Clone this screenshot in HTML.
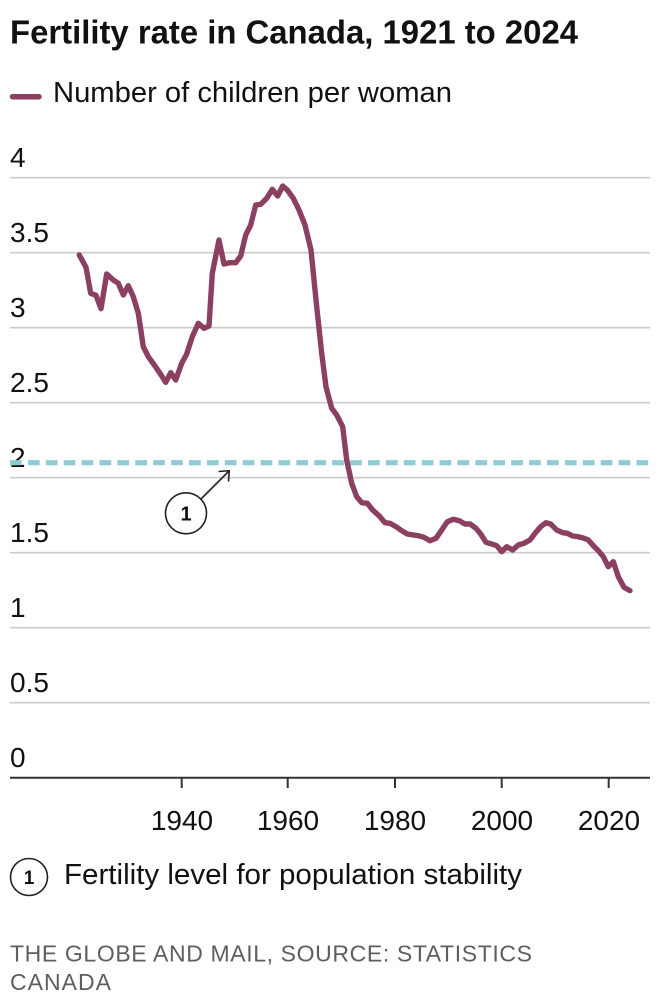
<!DOCTYPE html>
<html>
<head>
<meta charset="utf-8">
<style>
  html,body{margin:0;padding:0;background:#fff;}
  svg{display:block;}
  text{font-family:"Liberation Sans",Arial,sans-serif;}
</style>
</head>
<body>
<svg width="660" height="1008" viewBox="0 0 660 1008" xmlns="http://www.w3.org/2000/svg">
  <rect width="660" height="1008" fill="#fff"/>
  <!-- Title -->
  <text x="10" y="43.5" font-size="33" font-weight="bold" fill="#111" textLength="568" lengthAdjust="spacingAndGlyphs">Fertility rate in Canada, 1921 to 2024</text>
  <!-- Legend -->
  <line x1="12.5" y1="96.7" x2="39" y2="96.7" stroke="#8b3f61" stroke-width="5.5" stroke-linecap="round"/>
  <text x="53" y="102" font-size="29" fill="#111" textLength="399" lengthAdjust="spacingAndGlyphs">Number of children per woman</text>

  <!-- Gridlines -->
  <g stroke="#cccccc" stroke-width="1.7">
    <line x1="10" y1="177.7" x2="650" y2="177.7"/>
    <line x1="10" y1="252.7" x2="650" y2="252.7"/>
    <line x1="10" y1="327.7" x2="650" y2="327.7"/>
    <line x1="10" y1="402.7" x2="650" y2="402.7"/>
    <line x1="10" y1="477.7" x2="650" y2="477.7"/>
    <line x1="10" y1="552.7" x2="650" y2="552.7"/>
    <line x1="10" y1="627.7" x2="650" y2="627.7"/>
    <line x1="10" y1="702.7" x2="650" y2="702.7"/>
  </g>
  <!-- Y labels -->
  <g font-size="28" fill="#111">
    <text x="10" y="167">4</text>
    <text x="10" y="242">3.5</text>
    <text x="10" y="317">3</text>
    <text x="10" y="392">2.5</text>
    <text x="10" y="467">2</text>
    <text x="10" y="542">1.5</text>
    <text x="10" y="617">1</text>
    <text x="10" y="692">0.5</text>
    <text x="10" y="767">0</text>
  </g>

  <!-- Baseline and ticks -->
  <line x1="10" y1="777.7" x2="650" y2="777.7" stroke="#333" stroke-width="2"/>
  <g stroke="#333" stroke-width="2">
    <line x1="181.7" y1="777.7" x2="181.7" y2="788"/>
    <line x1="287.7" y1="777.7" x2="287.7" y2="788"/>
    <line x1="395" y1="777.7" x2="395" y2="788"/>
    <line x1="501.7" y1="777.7" x2="501.7" y2="788"/>
    <line x1="608.7" y1="777.7" x2="608.7" y2="788"/>
  </g>
  <g font-size="28" fill="#111" text-anchor="middle">
    <text x="182" y="830">1940</text>
    <text x="288" y="830">1960</text>
    <text x="395" y="830">1980</text>
    <text x="502" y="830">2000</text>
    <text x="609" y="830">2020</text>
  </g>

  <!-- Dashed stability line -->
  <line x1="10" y1="462.7" x2="650" y2="462.7" stroke="#8ecbd3" stroke-width="5.2" stroke-dasharray="11.7 6.2"/>

  <!-- Data line -->
  <polyline fill="none" stroke="#8b3f61" stroke-width="5.4" stroke-linejoin="round" stroke-linecap="round" points="
79.3,255 86,267.3 90.7,293.3 96,295.3 101,308.7 106.7,274 113.3,280 118.3,283.3 123.3,295 128.3,285.7
133.3,296.7 138.3,313.3 143.3,346.7 148.3,356.7 155,366 160,373.3 165.7,382.3 170.7,372.7 175.7,380
181.7,363.3 186.7,354 192.3,336.7 198.3,323.3 204,328.3 209,326 212.3,273.3 219,240 224,264 230,262.7
235.7,262.7 240.7,256 245.7,235 250.7,225 255.7,205 260.7,204.3 266.7,198.3 272.3,189.3 277.7,196
282.7,186 287.3,190 293.3,198.3 299,210 305,225 311,250 316.7,306.7 321.7,353.3 326,386.7 331.7,408.3
336.7,415 342.7,426.7 346.7,460 351.7,483.3 356.7,496.7 361.7,502.7 367.3,503.3 372.7,510 379.3,516
385,522.7 390,523.3 396,526.7 401.7,530.7 407.3,534 413.3,535 418.3,535.7 424,537.3 430,540.7 436,538.3
441.7,530 447.3,521.7 453.3,519.3 459.3,520.7 465,524 470,524 476,528.3 480.7,534 486,542.3 491.7,544
496.7,545.7 501.7,551.7 506.7,546.7 512.7,550 518.3,545 524,543.3 530,540 535,533.3 540.7,526.7 546,522.7
550.7,524 556.7,530 562.7,532.7 567.3,533.3 572.7,536 578.3,536.7 583.3,538 588.3,540 593.3,545.7
598.3,550.7 603.3,556.7 608.3,566.7 613.3,561.7 618.3,576.7 624,587.3 630,590.7"/>

  <!-- Annotation arrow -->
  <line x1="200.5" y1="499.5" x2="229" y2="471" stroke="#222" stroke-width="1.6"/>
  <polyline points="218.5,471.5 229.3,470.7 228.5,481.5" fill="none" stroke="#222" stroke-width="1.6" stroke-linejoin="miter"/>
  <circle cx="186" cy="513.3" r="20.5" fill="#fff" stroke="#222" stroke-width="1.6"/>
  <text x="186" y="520.5" font-size="20" font-weight="bold" fill="#111" text-anchor="middle">1</text>

  <!-- Footnote -->
  <circle cx="29" cy="877" r="18.5" fill="#fff" stroke="#222" stroke-width="1.6"/>
  <text x="29" y="884" font-size="19" font-weight="bold" fill="#111" text-anchor="middle">1</text>
  <text x="64" y="884" font-size="29" fill="#111" textLength="458" lengthAdjust="spacingAndGlyphs">Fertility level for population stability</text>

  <!-- Source -->
  <text x="10" y="961.5" font-size="23" fill="#5e5e5e" textLength="522" lengthAdjust="spacing">THE GLOBE AND MAIL, SOURCE: STATISTICS</text>
  <text x="10" y="990" font-size="23" fill="#5e5e5e" textLength="101" lengthAdjust="spacing">CANADA</text>
</svg>
</body>
</html>
